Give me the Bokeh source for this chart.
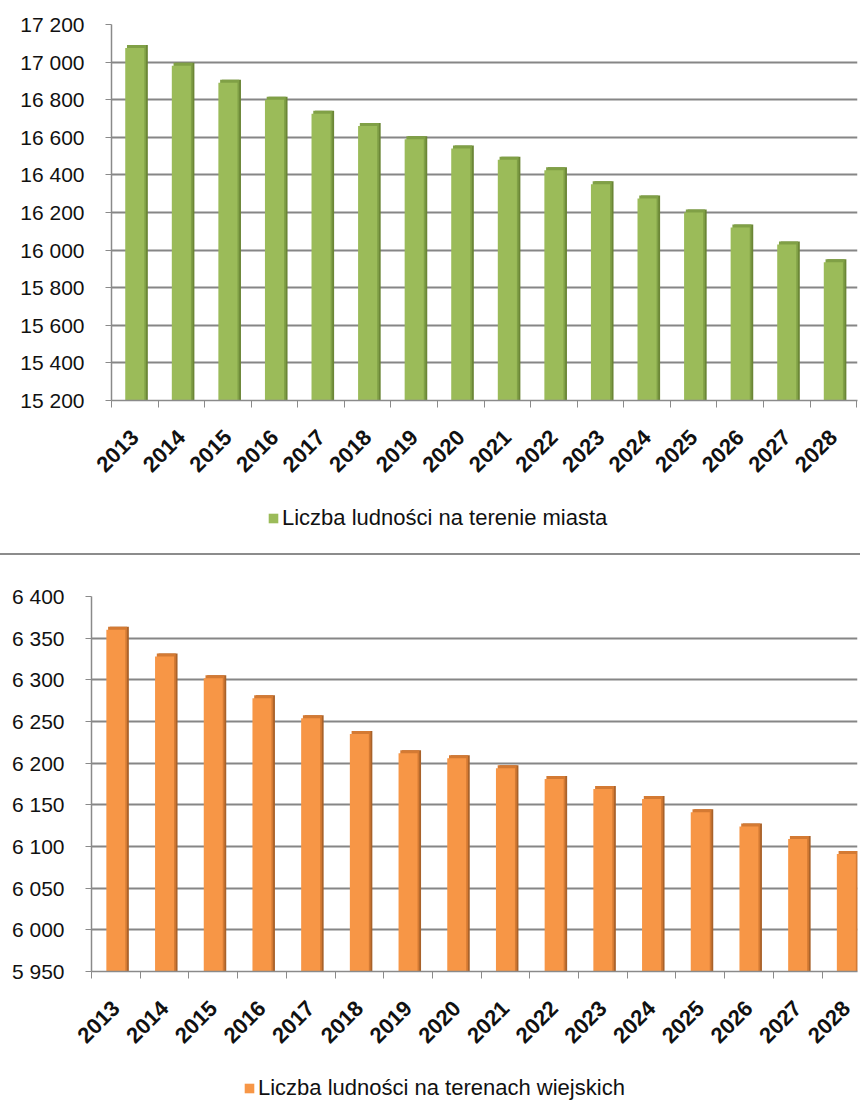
from bokeh.plotting import figure
from bokeh.models import Range1d, FixedTicker, Legend, LegendItem, Div, ColumnDataSource
from bokeh.layouts import column
from bokeh.transform import dodge
from bokeh.embed import file_html
from bokeh.resources import INLINE

years = ["2013", "2014", "2015", "2016", "2017", "2018", "2019", "2020",
         "2021", "2022", "2023", "2024", "2025", "2026", "2027", "2028"]
miasto = [17075, 16980, 16890, 16800, 16725, 16660, 16590, 16540,
          16480, 16425, 16350, 16275, 16200, 16120, 16030, 15935]
wies = [6360, 6328, 6302, 6278, 6254, 6235, 6212, 6206,
        6194, 6181, 6169, 6157, 6141, 6124, 6109, 6091]
miasto_ticks = [15200, 15400, 15600, 15800, 16000, 16200, 16400, 16600,
                16800, 17000, 17200]
wies_ticks = [5950, 6000, 6050, 6100, 6150, 6200, 6250, 6300, 6350, 6400]
label_miasto = "Liczba ludności na terenie miasta"
label_wies = "Liczba ludności na terenach wiejskich"

FONT = "Liberation Sans"
W = 860


def make_chart(values, ticks, colors, height, b_left, b_top, b_bottom,
               cat_px, bar_w):
    front_c, top_c, side_c = colors
    frame_w = W - b_left - 3
    frame_h = height - b_top - b_bottom
    x_end = -0.5 + frame_w / cat_px
    ymin, ymax = ticks[0], ticks[-1]
    dz = 3 * (ymax - ymin) / frame_h
    side_off = 3.5 / cat_px
    p = figure(width=W, height=height, output_backend="svg",
               toolbar_location=None, x_range=Range1d(-0.5, x_end),
               y_range=Range1d(ymin, ymax), min_border_left=b_left,
               min_border_right=3, min_border_top=b_top,
               min_border_bottom=b_bottom, frame_align=False)
    p.outline_line_color = None
    src = ColumnDataSource(dict(x=list(range(len(values))), top=values,
                                raised=[v + dz for v in values]))
    p.vbar(x=dodge("x", side_off, range=p.x_range), top="raised", bottom=ymin,
           width=bar_w, source=src, fill_color=side_c, line_color=None)
    p.vbar(x=dodge("x", side_off / 2, range=p.x_range), top="raised", bottom=ymin,
           width=bar_w, source=src, fill_color=top_c, line_color=None)
    p.vbar(x="x", top="top", bottom=ymin, width=bar_w, source=src,
           fill_color=front_c, line_color=None)

    # y axis
    p.yaxis.ticker = FixedTicker(ticks=ticks)
    p.yaxis.major_label_overrides = {t: f"{t:,}".replace(",", " ") for t in ticks}
    p.yaxis.major_label_text_font = FONT
    p.yaxis.major_label_text_font_size = "21px"
    p.yaxis.major_label_text_color = "#111111"
    p.yaxis.axis_line_color = "#8a8a8a"
    p.yaxis.axis_line_width = 1.5
    p.yaxis.major_tick_line_color = "#8a8a8a"
    p.yaxis.major_tick_out = 6
    p.yaxis.major_tick_in = 0
    p.yaxis.minor_tick_line_color = None
    p.yaxis.major_label_standoff = 21

    # x axis
    xt = list(range(len(years)))
    p.xaxis.ticker = FixedTicker(ticks=xt, minor_ticks=[i - 0.5 for i in range(len(years) + 1)])
    p.xaxis.major_label_overrides = {i: y for i, y in zip(xt, years)}
    p.xaxis.major_label_orientation = 0.7854
    p.xaxis.major_label_text_font = FONT
    p.xaxis.major_label_text_font_style = "bold"
    p.xaxis.major_label_text_font_size = "22px"
    p.xaxis.major_label_text_color = "#111111"
    p.xaxis.major_label_standoff = 26
    p.xaxis.axis_line_color = "#8a8a8a"
    p.xaxis.axis_line_width = 1.5
    p.xaxis.major_tick_line_color = None
    p.xaxis.major_tick_out = 0
    p.xaxis.major_tick_in = 0
    p.xaxis.minor_tick_line_color = "#8a8a8a"
    p.xaxis.minor_tick_out = 7
    p.xaxis.minor_tick_in = 0

    # grid
    p.xgrid.visible = False
    p.ygrid.ticker = FixedTicker(ticks=ticks)
    p.ygrid.grid_line_color = "#868686"
    p.ygrid.grid_line_width = 2
    return p, src


def make_legend(label, color, src, height, loc):
    q = figure(width=W, height=height, output_backend="svg",
               toolbar_location=None, x_axis_type=None, y_axis_type=None,
               x_range=Range1d(0, 1), y_range=Range1d(0, 1), min_border=0,
               frame_align=False)
    q.outline_line_color = None
    q.xgrid.visible = False
    q.ygrid.visible = False
    r = q.vbar(x="x", top="top", width=0.1, source=src, fill_color=color,
               line_color=None, visible=False)
    legend = Legend(items=[LegendItem(label=label, renderers=[r])],
                    location=loc, orientation="horizontal",
                    glyph_width=12, glyph_height=12, label_standoff=3,
                    label_text_font=FONT, label_text_font_size="22px",
                    label_text_color="#111111", border_line_color=None,
                    background_fill_alpha=0, padding=0, margin=0, spacing=0,
                    inactive_fill_alpha=0)
    q.add_layout(legend)
    return q


p1, s1 = make_chart(miasto, miasto_ticks, ("#9BBB59", "#80A046", "#6B8636"),
                    height=490, b_left=111, b_top=24, b_bottom=90,
                    cat_px=46.57, bar_w=0.41)
l1 = make_legend(label_miasto, "#9BBB59", s1, 63, (267, 22))
sep = Div(width=W, height=2, margin=(0, 0, 0, 0),
          styles={"background-color": "#8c8c8c"})
p2, s2 = make_chart(wies, wies_ticks, ("#F79646", "#D47A33", "#A9622A"),
                    height=497, b_left=91, b_top=41, b_bottom=80,
                    cat_px=48.7, bar_w=0.39)
l2 = make_legend(label_wies, "#F79646", s2, 50, (243, 1))

layout = column(p1, l1, sep, p2, l2, spacing=0)
open("out.html", "w").write(file_html(layout, INLINE))
